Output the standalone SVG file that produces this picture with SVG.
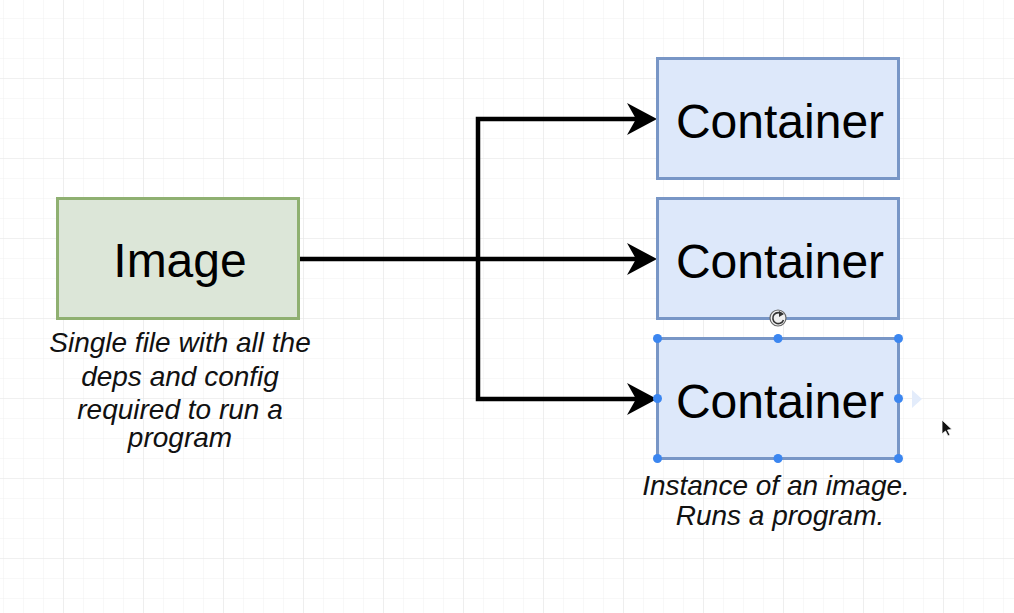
<svg xmlns="http://www.w3.org/2000/svg" width="1014" height="613" viewBox="0 0 1014 613">
<style>
.node-img{fill:#dce6d8;stroke:#8fb071;stroke-width:3}
.node-c{fill:#dde8fa;stroke:#7896c6;stroke-width:3}
.lbl{font-family:"Liberation Sans",Arial,sans-serif;font-size:48px;fill:#000;text-anchor:middle}
.cap{font-family:"Liberation Sans",Arial,sans-serif;font-size:28px;font-style:italic;fill:#111;text-anchor:middle}
.edge{fill:none;stroke:#000;stroke-width:4.5}
.h{fill:#3b86f0}
</style>
<defs>
<pattern id="minor" width="20" height="20" patternUnits="userSpaceOnUse" x="4" y="-1">
<path d="M20 0V20M0 20H20" fill="none" stroke="#f1f1f1" stroke-width="1"/>
</pattern>
<pattern id="major" width="80" height="80" patternUnits="userSpaceOnUse" x="-16" y="-1">
<path d="M80 0V80M0 80H80" fill="none" stroke="#e8e8e8" stroke-width="1.2"/>
</pattern>
<marker id="arr" viewBox="0 0 30 32" refX="23" refY="16" markerWidth="30" markerHeight="32" markerUnits="userSpaceOnUse" orient="auto">
<path d="M0 0L30 16L0 32L9 16Z" fill="#000"/>
</marker>
</defs>
<rect width="1014" height="613" fill="#fff"/>
<rect width="1014" height="613" fill="url(#minor)"/>
<rect width="1014" height="613" fill="url(#major)"/>

<g id="connectors">
<path class="edge" d="M299 259H650" marker-end="url(#arr)"/>
<path class="edge" d="M478 259V119H650" marker-end="url(#arr)"/>
<path class="edge" d="M478 259V399H650" marker-end="url(#arr)"/>
</g>

<g id="image">
<rect class="node-img" x="57.5" y="198.5" width="241" height="120"/>
<text class="lbl" x="180" y="277">Image</text>
</g>
<g id="image-caption">
<text class="cap" x="180" y="352">Single file with all the</text>
<text class="cap" x="180" y="386">deps and config</text>
<text class="cap" x="180" y="419">required to run a</text>
<text class="cap" x="180" y="447">program</text>
</g>

<g id="container1">
<rect class="node-c" x="657.5" y="58.5" width="241" height="120"/>
<text class="lbl" x="780" y="138">Container</text>
</g>
<g id="container2">
<rect class="node-c" x="657.5" y="198.5" width="241" height="120"/>
<text class="lbl" x="780" y="278">Container</text>
</g>
<g id="container3">
<rect class="node-c" x="657.5" y="338.5" width="241" height="120"/>
<text class="lbl" x="780" y="418">Container</text>
</g>
<g id="container-caption">
<text class="cap" x="776" y="495">Instance of an image.</text>
<text class="cap" x="780" y="525">Runs a program.</text>
</g>

<g id="selection">
<circle class="h" cx="657.5" cy="338.5" r="4.5"/>
<circle class="h" cx="778" cy="338.5" r="4.5"/>
<circle class="h" cx="898.5" cy="338.5" r="4.5"/>
<circle class="h" cx="657.5" cy="398.5" r="4.5"/>
<circle class="h" cx="898.5" cy="398.5" r="4.5"/>
<circle class="h" cx="657.5" cy="458.5" r="4.5"/>
<circle class="h" cx="778" cy="458.5" r="4.5"/>
<circle class="h" cx="898.5" cy="458.5" r="4.5"/>
<circle cx="778" cy="318" r="8" fill="#f0f0f0" stroke="#666" stroke-width="1.2"/>
<path d="M782.5 314.5A5.5 5.5 0 1 0 783.5 320" fill="none" stroke="#333" stroke-width="1.6"/>
<path d="M779 311L784 314L779 317Z" fill="#333"/>
<path d="M912 390L922 399L912 408Z" fill="#e3ecfb"/>
<path d="M942 420L942 434L945.5 431L948 436L950 435L947.5 430L952 429.5Z" fill="#111" stroke="#fff" stroke-width="0.8"/>
</g>
</svg>
